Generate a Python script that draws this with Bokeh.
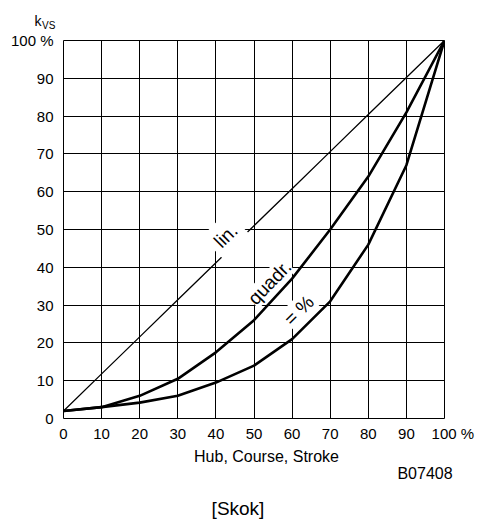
import math
from bokeh.plotting import figure
from bokeh.layouts import column
from bokeh.models import Range1d, FixedTicker, Label
from bokeh.core.properties import value
from bokeh.embed import file_html
from bokeh.resources import INLINE

# ---- data ----
stroke = [0, 10, 20, 30, 40, 50, 60, 70, 80, 90, 100]
kvs_lin = [2, 11.8, 21.6, 31.4, 41.2, 51, 60.8, 70.6, 80.4, 90.2, 100]
kvs_quadr = [2, 3, 6, 10.5, 17.5, 26, 37, 50, 64, 81, 100]
kvs_eqpct = [2, 3, 4.2, 6, 9.5, 14, 21, 31, 46, 67, 100]
ticks = [0, 10, 20, 30, 40, 50, 60, 70, 80, 90, 100]
y_tick_labels = ["0", "10", "20", "30", "40", "50", "60", "70", "80", "90", "100 %"]
x_tick_labels = ["0", "10", "20", "30", "40", "50", "60", "70", "80", "90",
                 "\u2007\u2007100 %"]
curve_names = ["lin.", "quadr.", "= %"]
y_title = ["k", "VS"]
bottom_texts = ["Hub, Course, Stroke", "B07408", "[Skok]"]

FONT = "Liberation Sans"
W = 477


def text_strip(h):
    f = figure(width=W, height=h, output_backend="svg", toolbar_location=None,
               x_range=Range1d(0, W), y_range=Range1d(h, 0),
               x_axis_type=None, y_axis_type=None, frame_align=False,
               min_border_left=0, min_border_right=0, min_border_top=0, min_border_bottom=0)
    f.outline_line_color = None
    f.background_fill_color = "white"
    f.border_fill_color = "white"
    f.grid.visible = False
    return f


# ---- top strip: k_VS ----
top = text_strip(30)
top.text(x=[34], y=[20], text=[y_title[0]], text_font=value(FONT), text_font_size=value("14px"),
         text_align="left", text_baseline="alphabetic", text_color="black")
top.text(x=[41.5], y=[24.5], text=[y_title[1]], text_font=value(FONT), text_font_size=value("10px"),
         text_align="left", text_baseline="alphabetic", text_color="black")

# ---- main chart ----
p = figure(width=W, height=414, output_backend="svg", toolbar_location=None,
           x_range=Range1d(0, 100), y_range=Range1d(0, 100), frame_align=False,
           min_border_left=63, min_border_right=33, min_border_top=10, min_border_bottom=24)
p.background_fill_color = "white"
p.border_fill_color = "white"
p.outline_line_color = "black"
p.outline_line_width = 1

for ax, labels in ((p.xaxis, x_tick_labels), (p.yaxis, y_tick_labels)):
    ax.ticker = FixedTicker(ticks=ticks)
    ax.major_label_overrides = {t: l for t, l in zip(ticks, labels)}
    ax.axis_line_color = None
    ax.major_tick_line_color = None
    ax.minor_tick_line_color = None
    ax.major_tick_out = 0
    ax.major_tick_in = 0
    ax.major_label_text_font = FONT
    ax.major_label_text_font_size = "15px"
    ax.major_label_text_color = "black"
p.xaxis.major_label_standoff = 6
p.yaxis.major_label_standoff = 10

for g in (p.xgrid, p.ygrid):
    g.ticker = FixedTicker(ticks=ticks)
    g.grid_line_color = "black"
    g.grid_line_width = 1
    g.grid_line_alpha = 1

p.line(stroke, kvs_lin, line_color="black", line_width=1.3)
p.line(stroke, kvs_quadr, line_color="black", line_width=2.6, line_join="round")
p.line(stroke, kvs_eqpct, line_color="black", line_width=2.6, line_join="round")

label_style = dict(text_align="center", text_baseline="middle", text_font=FONT,
                   text_font_size="19px", text_color="black", background_fill_color="white")
p.add_layout(Label(x=42.6, y=48.3, text=curve_names[0], angle=math.radians(45), padding=6, **label_style))
p.add_layout(Label(x=54.1, y=36.0, text=curve_names[1], angle=math.radians(46), padding=0, **label_style))
p.add_layout(Label(x=61.8, y=28.6, text=curve_names[2], angle=math.radians(45), padding=1, **label_style))

# ---- bottom strip ----
bot = text_strip(75)
bot.text(x=[266], y=[12], text=[bottom_texts[0]], text_font=value(FONT), text_font_size=value("16px"),
         text_align="center", text_baseline="middle", text_color="black")
bot.text(x=[424.5], y=[28.5], text=[bottom_texts[1]], text_font=value(FONT), text_font_size=value("16px"),
         text_align="center", text_baseline="middle", text_color="black")
bot.text(x=[237.5], y=[64], text=[bottom_texts[2]], text_font=value(FONT), text_font_size=value("19px"),
         text_align="center", text_baseline="middle", text_color="black")

layout = column(top, p, bot, spacing=0)
open("out.html", "w").write(file_html(layout, INLINE))
